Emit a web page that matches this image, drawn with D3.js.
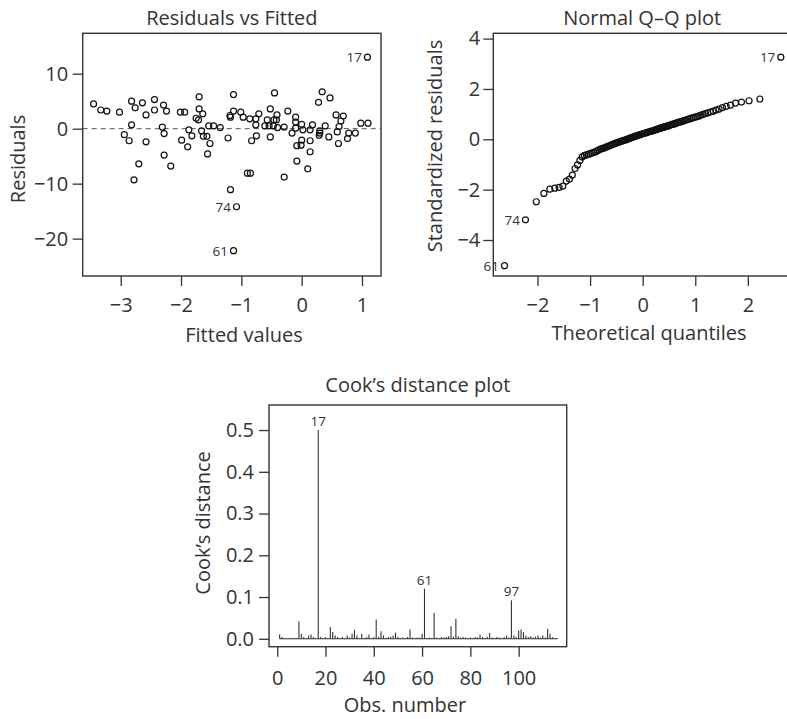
<!DOCTYPE html>
<html>
<head>
<meta charset="utf-8">
<script src="https://cdn.jsdelivr.net/npm/d3@7"></script>
<style>
  body { margin: 0; background: #fff; }
  text { font-family: "Open Sans", sans-serif; fill: #333; }
</style>
</head>
<body>
<script>
/* DATA */
// residuals vs fitted (first three are the labelled observations)
const idObs = ["17", "74", "61"];
const fitted = [1.09, -1.08, -1.13,
  -3.45, -3.33, -3.23, -3.02, -2.94, -2.86, -2.82, -2.82, -2.76, -2.78,
  -2.70, -2.64, -2.58, -2.58, -2.44, -2.44, -2.29, -2.24, -2.31, -2.28,
  -2.28, -2.17, -2.01, -1.94, -1.99, -1.89, -1.87, -1.82, -1.70, -1.70,
  -1.75, -1.71, -1.64, -1.66, -1.63, -1.57, -1.52, -1.56, -1.54, -1.46,
  -1.35, -1.22, -1.18, -1.18, -1.13, -1.13, -1.01, -0.97, -0.86, -0.83,
  -0.90, -0.85, -0.76, -0.76, -0.75, -0.71, -0.61, -0.57, -0.52, -0.52,
  -0.54, -0.46, -0.45, -0.42, -0.41, -0.40, -0.29, -0.29, -0.23, -0.16,
  -0.10, -0.10, -0.10, -0.08, -0.08, 0.00, 0.02, 0.00, -0.01, 0.10,
  0.14, 0.14, 0.14, 0.18, 0.28, 0.30, 0.29, 0.34, 0.39, 0.45,
  0.47, 0.57, 0.59, 0.61, 0.62, 0.65, 0.69, 0.76, 0.78, 0.89,
  0.98, 1.10, 0.30, -1.19, -0.47];
const resid = [13.0, -14.2, -22.2,
  4.5, 3.4, 3.2, 3.0, -1.1, -2.2, 0.7, 5.0, 3.8, -9.3,
  -6.4, 4.7, 2.5, -2.4, 5.3, 3.4, 4.3, 3.2, 0.3, -0.9,
  -4.8, -6.8, 3.0, 3.0, -2.1, -3.3, -0.2, -1.3, 5.8, 3.6,
  1.9, 1.6, 2.7, -0.4, -1.4, -1.4, -2.7, -4.6, 0.5, 0.5,
  0.2, -1.7, 2.1, -11.1, 6.2, 3.2, 3.0, 2.1, 1.8, -2.2,
  -8.1, -8.1, 1.8, 0.7, -1.3, 2.7, 0.5, 1.6, 3.6, -1.5,
  0.5, 1.6, 6.5, 1.6, 2.5, 0.2, 0.3, -8.8, 3.2, -0.8,
  2.1, 1.2, 0.1, -3.1, -5.9, 0.8, -0.2, -2.1, -3.0, -7.3,
  -0.2, -2.2, -4.2, 0.7, 4.8, -0.4, -1.2, 6.7, 0.5, -1.5,
  5.6, 2.5, -0.6, -2.7, 0.4, 1.4, 2.3, -1.8, -0.8, -0.8,
  1.0, 1.0, -0.8, 2.4, 0.5];
const residTicksX = [-3, -2, -1, 0, 1];
const residTicksY = [-20, -10, 0, 10];

// normal Q-Q: sorted standardized residuals (ranks 1..116)
const qqStd = [-5.02, -3.20, -2.48, -2.15, -1.98, -1.94, -1.91, -1.86, -1.66, -1.58,
  -1.42, -1.16, -1.02, -0.84, -0.70, -0.64, -0.62, -0.59, -0.57, -0.54,
  -0.52, -0.49, -0.46, -0.42, -0.39, -0.37, -0.35, -0.33, -0.30, -0.28,
  -0.26, -0.24, -0.21, -0.19, -0.17, -0.15, -0.13, -0.11, -0.10, -0.08,
  -0.06, -0.05, -0.03, -0.02, 0.00, 0.02, 0.04, 0.06, 0.07, 0.09,
  0.11, 0.12, 0.14, 0.15, 0.17, 0.18, 0.20, 0.21, 0.23, 0.24,
  0.25, 0.27, 0.28, 0.30, 0.31, 0.32, 0.34, 0.35, 0.37, 0.38,
  0.40, 0.41, 0.43, 0.44, 0.46, 0.47, 0.49, 0.50, 0.52, 0.53,
  0.55, 0.57, 0.59, 0.60, 0.62, 0.64, 0.66, 0.68, 0.69, 0.71,
  0.73, 0.75, 0.77, 0.79, 0.82, 0.84, 0.86, 0.88, 0.90, 0.93,
  0.96, 0.99, 1.02, 1.05, 1.08, 1.11, 1.16, 1.20, 1.26, 1.31,
  1.36, 1.44, 1.48, 1.53, 1.60, 3.26];
const qqIdRank = [116, 2, 1];   // ranks of obs 17, 74, 61
const qqTicksX = [-2, -1, 0, 1, 2];
const qqTicksY = [-4, -2, 0, 2, 4];

// Cook's distance by observation number 1..116
const cooks = [0.010, 0.004, 0.001, 0.001, 0.002, 0.001, 0.001, 0.002, 0.042, 0.012,
  0.004, 0.002, 0.008, 0.010, 0.004, 0.002, 0.500, 0.005, 0.002, 0.004,
  0.002, 0.028, 0.016, 0.008, 0.004, 0.002, 0.005, 0.002, 0.008, 0.003,
  0.012, 0.022, 0.008, 0.002, 0.012, 0.002, 0.004, 0.010, 0.002, 0.004,
  0.046, 0.004, 0.018, 0.008, 0.002, 0.004, 0.005, 0.008, 0.015, 0.004,
  0.002, 0.003, 0.002, 0.004, 0.022, 0.003, 0.002, 0.003, 0.003, 0.012,
  0.120, 0.002, 0.003, 0.002, 0.062, 0.003, 0.002, 0.004, 0.003, 0.004,
  0.006, 0.030, 0.005, 0.048, 0.006, 0.003, 0.004, 0.003, 0.002, 0.003,
  0.002, 0.004, 0.003, 0.010, 0.004, 0.002, 0.005, 0.014, 0.003, 0.002,
  0.004, 0.003, 0.002, 0.004, 0.008, 0.003, 0.092, 0.008, 0.004, 0.020,
  0.022, 0.016, 0.008, 0.004, 0.006, 0.003, 0.005, 0.008, 0.003, 0.008,
  0.003, 0.024, 0.012, 0.004, 0.002, 0.002];
const cookTicksX = [0, 20, 40, 60, 80, 100];
const cookTicksY = [0, 0.1, 0.2, 0.3, 0.4, 0.5];

/* LAYOUT */
const width = 787, height = 719;
const ink = "#333";
const p1 = {left: 82.7, right: 381, top: 33.3, bottom: 276};
const p2 = {left: 493.3, right: 791, top: 33.3, bottom: 276};
const p3 = {left: 269, right: 566.7, top: 405, bottom: 646.7};

// inverse normal cdf (Acklam) for theoretical quantiles
function qnorm(p) {
  const a = [-3.969683028665376e+01, 2.209460984245205e+02, -2.759285104469687e+02, 1.383577518672690e+02, -3.066479806614716e+01, 2.506628277459239e+00];
  const b = [-5.447609879822406e+01, 1.615858368580409e+02, -1.556989798598866e+02, 6.680131188771972e+01, -1.328068155288572e+01];
  const c = [-7.784894002430293e-03, -3.223964580411365e-01, -2.400758277161838e+00, -2.549732539343734e+00, 4.374664141464968e+00, 2.938163982698783e+00];
  const d = [7.784695709041462e-03, 3.224671290700398e-01, 2.445134137142996e+00, 3.754408661907416e+00];
  let q, r;
  if (p < 0.02425 || p > 1 - 0.02425) {
    q = Math.sqrt(-2 * Math.log(p < 0.5 ? p : 1 - p));
    const v = (((((c[0]*q+c[1])*q+c[2])*q+c[3])*q+c[4])*q+c[5]) / ((((d[0]*q+d[1])*q+d[2])*q+d[3])*q+1);
    return p < 0.5 ? v : -v;
  }
  q = p - 0.5; r = q * q;
  return (((((a[0]*r+a[1])*r+a[2])*r+a[3])*r+a[4])*r+a[5])*q / (((((b[0]*r+b[1])*r+b[2])*r+b[3])*r+b[4])*r+1);
}

const svg = d3.select("body").append("svg")
  .attr("width", width)
  .attr("height", height);

function frame(p) {
  svg.append("rect")
    .attr("x", p.left).attr("y", p.top)
    .attr("width", p.right - p.left).attr("height", p.bottom - p.top)
    .attr("fill", "none").attr("stroke", ink).attr("stroke-width", 1.4);
}

function styleAxis(g) {
  g.select(".domain").remove();
  g.selectAll(".tick line").attr("stroke", ink).attr("stroke-width", 1.3);
  g.selectAll(".tick text").attr("fill", ink)
    .style("font-family", '"Open Sans", sans-serif').style("font-size", "20px");
}

function axes(p, x, y, tx, ty, fmtX, fmtY, padX, padY) {
  svg.append("g")
    .attr("transform", "translate(0," + p.bottom + ")")
    .call(d3.axisBottom(x).tickValues(tx).tickSize(10).tickPadding(padX).tickFormat(fmtX))
    .call(styleAxis);
  svg.append("g")
    .attr("transform", "translate(" + p.left + ",0)")
    .call(d3.axisLeft(y).tickValues(ty).tickSize(10).tickPadding(padY).tickFormat(fmtY))
    .call(styleAxis);
}

function title(txt, x, y) {
  svg.append("text").attr("x", x).attr("y", y)
    .attr("text-anchor", "middle").style("font-size", "20px").text(txt);
}
function ytitle(txt, x, y) {
  svg.append("text")
    .attr("transform", "translate(" + x + "," + y + ") rotate(-90)")
    .attr("text-anchor", "middle").style("font-size", "20px").text(txt);
}
function pointLabel(txt, x, y) {
  svg.append("text").attr("x", x - 5.5).attr("y", y).attr("dy", "0.36em")
    .attr("text-anchor", "end").style("font-size", "13.5px").text(txt);
}

/* PANEL 1: Residuals vs Fitted */
const x1 = d3.scaleLinear().domain([-3.63, 1.315]).range([p1.left, p1.right]);
const y1 = d3.scaleLinear().domain([-26.8, 17.35]).range([p1.bottom, p1.top]);

svg.append("line")
  .attr("x1", p1.left).attr("x2", p1.right)
  .attr("y1", y1(0)).attr("y2", y1(0))
  .attr("stroke", "#555").attr("stroke-width", 1).attr("stroke-dasharray", "5,4");

svg.append("g").selectAll("circle")
  .data(fitted.map((f, i) => [f, resid[i]]))
  .enter().append("circle")
  .attr("cx", d => x1(d[0])).attr("cy", d => y1(d[1])).attr("r", 3)
  .attr("fill", "none").attr("stroke", "#111").attr("stroke-width", 1.2);

idObs.forEach((lab, i) => pointLabel(lab, x1(fitted[i]), y1(resid[i])));

frame(p1);
axes(p1, x1, y1, residTicksX, residTicksY, d3.format(""), d3.format(""), 11.5, 4.5);
title("Residuals vs Fitted", (p1.left + p1.right) / 2, 25);
ytitle("Residuals", 25, 159);
title("Fitted values", 244, 341.5);

/* PANEL 2: Normal Q-Q */
const x2 = d3.scaleLinear().domain([-2.84, 2.82]).range([p2.left, p2.right]);
const y2 = d3.scaleLinear().domain([-5.43, 4.21]).range([p2.bottom, p2.top]);
const n = qqStd.length;
const qq = qqStd.map((v, i) => [qnorm((i + 1 - 0.5) / n), v]);

svg.append("g").selectAll("circle")
  .data(qq)
  .enter().append("circle")
  .attr("cx", d => x2(d[0])).attr("cy", d => y2(d[1])).attr("r", 3)
  .attr("fill", "none").attr("stroke", "#111").attr("stroke-width", 1.2);

qqIdRank.forEach((rk, i) => pointLabel(idObs[i], x2(qq[rk - 1][0]), y2(qq[rk - 1][1])));

frame(p2);
axes(p2, x2, y2, qqTicksX, qqTicksY, d3.format(""), d3.format(""), 11.5, 3);
title("Normal Q\u2013Q plot", (p2.left + p2.right) / 2, 25);
ytitle("Standardized residuals", 441.5, 146);
title("Theoretical quantiles", 649, 340);

/* PANEL 3: Cook's distance */
const x3 = d3.scaleLinear().domain([-3.4, 119.9]).range([p3.left, p3.right]);
const y3 = d3.scaleLinear().domain([-0.019, 0.56]).range([p3.bottom, p3.top]);

svg.append("line")
  .attr("x1", x3(1)).attr("x2", x3(cooks.length))
  .attr("y1", y3(0)).attr("y2", y3(0))
  .attr("stroke", ink).attr("stroke-width", 1);

svg.append("g").selectAll("line")
  .data(cooks)
  .enter().append("line")
  .attr("x1", (d, i) => x3(i + 1)).attr("x2", (d, i) => x3(i + 1))
  .attr("y1", y3(0)).attr("y2", d => y3(d))
  .attr("stroke", ink).attr("stroke-width", 1.1);

// label the three largest distances with their observation number
const top3 = d3.range(cooks.length).sort((a, b) => cooks[b] - cooks[a]).slice(0, 3);
top3.forEach(i => {
  svg.append("text")
    .attr("x", x3(i + 1)).attr("y", y3(cooks[i]) - 4)
    .attr("text-anchor", "middle").style("font-size", "13.5px")
    .text(i + 1);
});

frame(p3);
axes(p3, x3, y3, cookTicksX, cookTicksY, d3.format(""), d3.format(".1f"), 14, 5);
title("Cook\u2019s distance plot", (p3.left + p3.right) / 2, 392);
ytitle("Cook\u2019s distance", 210, 523);
title("Obs. number", 405, 712);
</script>
</body>
</html>
